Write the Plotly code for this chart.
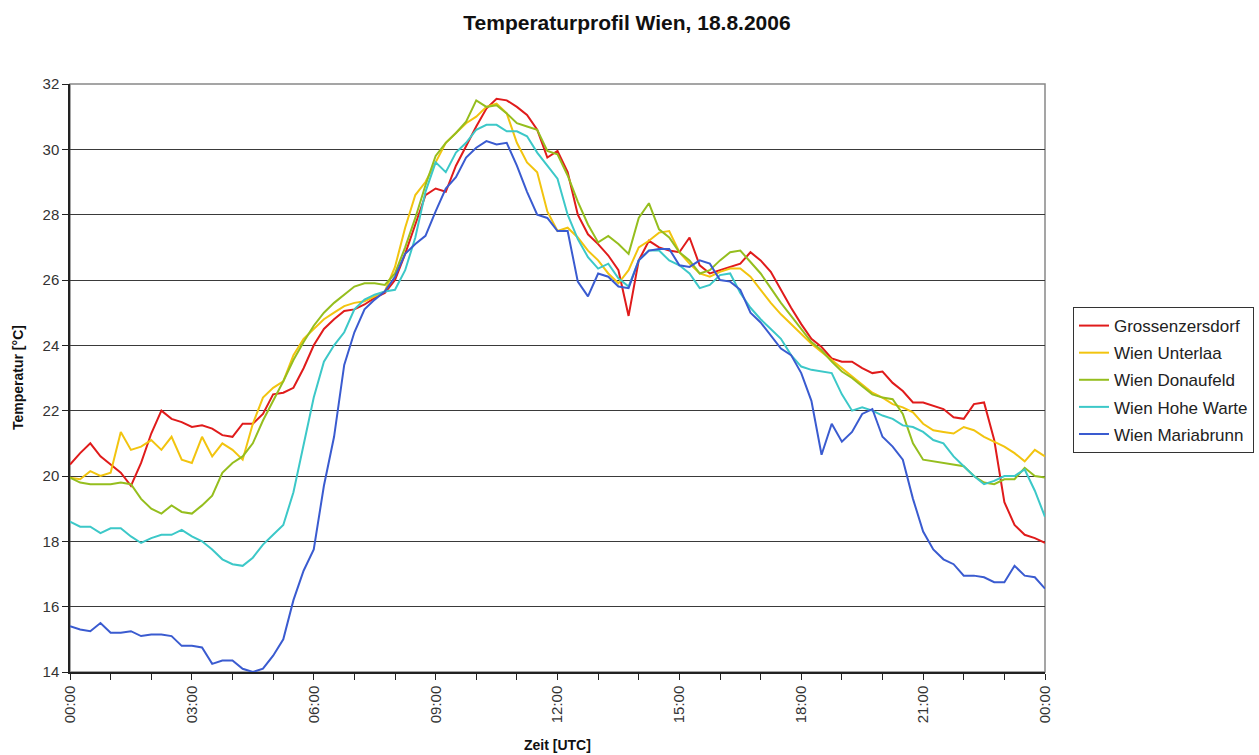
import plotly.graph_objects as go

# time grid (hours after 00:00 UTC, 15-minute steps)
times = [i * 0.25 for i in range(97)]

series_names = ["Grossenzersdorf", "Wien Unterlaa", "Wien Donaufeld", "Wien Hohe Warte", "Wien Mariabrunn"]

grossenzersdorf = [
    20.35, 20.7, 21.0, 20.6, 20.35, 20.1, 19.7, 20.4, 21.3, 22.0, 21.75, 21.65,
    21.5, 21.55, 21.45, 21.25, 21.2, 21.6, 21.6, 21.9, 22.5, 22.55, 22.7, 23.3,
    24.0, 24.5, 24.8, 25.05, 25.1, 25.25, 25.45, 25.6, 26.0, 26.8, 27.7, 28.6,
    28.8, 28.7, 29.5, 30.1, 30.7, 31.25, 31.55, 31.5, 31.3, 31.05, 30.6, 29.75,
    29.95, 29.3, 28.0, 27.4, 27.1, 26.75, 26.3, 24.9, 26.6, 27.2, 27.0, 26.9,
    26.85, 27.3, 26.45, 26.2, 26.3, 26.4, 26.5, 26.85, 26.6, 26.25, 25.7, 25.15,
    24.65, 24.2, 23.95, 23.6, 23.5, 23.5, 23.3, 23.15, 23.2, 22.85, 22.6, 22.25,
    22.25, 22.15, 22.05, 21.8, 21.75, 22.2, 22.25, 21.1, 19.2, 18.5, 18.2, 18.1,
    17.95,
]

unterlaa = [
    19.95, 19.9, 20.15, 20.0, 20.1, 21.35, 20.8, 20.9, 21.1, 20.8, 21.2, 20.5,
    20.4, 21.2, 20.6, 21.0, 20.8, 20.5, 21.6, 22.4, 22.7, 22.9, 23.7, 24.2,
    24.5, 24.8, 25.0, 25.2, 25.3, 25.35, 25.5, 25.65, 26.4, 27.6, 28.6, 29.0,
    29.6, 30.2, 30.5, 30.8, 31.0, 31.3, 31.4, 31.1, 30.2, 29.6, 29.3, 28.1,
    27.5, 27.6, 27.3, 26.9, 26.6, 26.2, 25.9, 26.3, 27.0, 27.2, 27.45, 27.5,
    26.85, 26.5, 26.2, 26.1, 26.25, 26.35, 26.35, 26.1, 25.7, 25.3, 24.95, 24.65,
    24.35, 24.05, 23.8, 23.55, 23.3, 23.05, 22.8, 22.55, 22.4, 22.2, 22.1, 21.95,
    21.6, 21.4, 21.35, 21.3, 21.5, 21.4, 21.2, 21.05, 20.9, 20.7, 20.45, 20.8,
    20.6,
]

donaufeld = [
    19.95, 19.8, 19.75, 19.75, 19.75, 19.8, 19.75, 19.3, 19.0, 18.85, 19.1, 18.9,
    18.85, 19.1, 19.4, 20.1, 20.4, 20.6, 21.0, 21.7, 22.3, 22.9, 23.55, 24.1,
    24.6, 25.0, 25.3, 25.55, 25.8, 25.9, 25.9, 25.85, 26.2, 27.0, 27.9, 28.9,
    29.8, 30.2, 30.5, 30.85, 31.5, 31.3, 31.35, 31.1, 30.8, 30.7, 30.6, 29.95,
    29.85, 29.2, 28.4, 27.7, 27.15, 27.35, 27.1, 26.8, 27.9, 28.35, 27.55, 27.3,
    26.85, 26.6, 26.2, 26.3, 26.6, 26.85, 26.9, 26.55, 26.2, 25.75, 25.3, 24.9,
    24.5, 24.1, 23.85, 23.5, 23.2, 23.0, 22.75, 22.5, 22.4, 22.35, 21.9, 21.0,
    20.5, 20.45, 20.4, 20.35, 20.3, 20.0, 19.8, 19.75, 19.9, 19.9, 20.25, 20.0,
    19.95,
]

hohe_warte = [
    18.6, 18.45, 18.45, 18.25, 18.4, 18.4, 18.15, 17.95, 18.1, 18.2, 18.2, 18.35,
    18.15, 18.0, 17.75, 17.45, 17.3, 17.25, 17.5, 17.9, 18.2, 18.5, 19.5, 20.9,
    22.4, 23.5, 24.0, 24.4, 25.1, 25.4, 25.55, 25.65, 25.7, 26.3, 27.3, 28.7,
    29.6, 29.3, 29.9, 30.2, 30.6, 30.75, 30.75, 30.55, 30.55, 30.4, 29.9, 29.5,
    29.1, 28.0, 27.25, 26.7, 26.35, 26.5, 26.05, 25.8, 26.6, 26.9, 26.9, 26.6,
    26.45, 26.2, 25.75, 25.85, 26.15, 26.2, 25.6, 25.15, 24.8, 24.5, 24.2, 23.7,
    23.35, 23.25, 23.2, 23.15, 22.5, 22.0, 22.1, 22.0, 21.85, 21.75, 21.55, 21.5,
    21.35, 21.1, 21.0, 20.6, 20.3, 20.0, 19.75, 19.85, 20.0, 20.0, 20.2, 19.55,
    18.75,
]

mariabrunn = [
    15.4, 15.3, 15.25, 15.5, 15.2, 15.2, 15.25, 15.1, 15.15, 15.15, 15.1, 14.8,
    14.8, 14.75, 14.25, 14.35, 14.35, 14.1, 14.0, 14.1, 14.5, 15.0, 16.2, 17.1,
    17.75, 19.7, 21.2, 23.4, 24.4, 25.1, 25.4, 25.65, 26.1, 26.8, 27.1, 27.35,
    28.1, 28.8, 29.15, 29.75, 30.05, 30.25, 30.15, 30.2, 29.5, 28.7, 28.0, 27.9,
    27.5, 27.5, 25.95, 25.5, 26.2, 26.1, 25.8, 25.75, 26.6, 26.9, 26.95, 26.95,
    26.45, 26.4, 26.6, 26.5, 26.0, 25.95, 25.7, 25.0, 24.7, 24.3, 23.9, 23.7,
    23.15, 22.3, 20.65, 21.6, 21.05, 21.35, 21.9, 22.05, 21.2, 20.9, 20.5, 19.3,
    18.3, 17.75, 17.45, 17.3, 16.95, 16.95, 16.9, 16.75, 16.75, 17.25, 16.95, 16.9,
    16.55,
]

series_values = [grossenzersdorf, unterlaa, donaufeld, hohe_warte, mariabrunn]
series_colors = ["#E01B1B", "#F2C40F", "#95BE1E", "#3CC8C8", "#3A5BD0"]

x_tick_hours = list(range(25))
x_tick_labels = ["00:00", "", "", "03:00", "", "", "06:00", "", "", "09:00", "", "",
                 "12:00", "", "", "15:00", "", "", "18:00", "", "", "21:00", "", "",
                 "00:00"]
y_tick_values = [14, 16, 18, 20, 22, 24, 26, 28, 30, 32]

FONT = "Liberation Sans, Arial, sans-serif"

fig = go.Figure()
for i, (name, vals, col) in enumerate(zip(series_names, series_values, series_colors)):
    n = min(len(times), len(vals))
    fig.add_trace(go.Scatter(
        x=times[:n], y=vals[:n], mode="lines", name=name,
        line=dict(color=col, width=2), legendgroup=f"g{i}",
    ))

fig.update_layout(
    width=1259, height=755,
    margin=dict(l=70, r=214, t=84, b=83, autoexpand=False),
    paper_bgcolor="white", plot_bgcolor="white",
    font=dict(family=FONT, color="#222"),
    title=dict(text="<b>Temperaturprofil Wien, 18.8.2006</b>", x=0.498, xanchor="center",
               y=1 - 23 / 755, yanchor="middle", font=dict(size=21, color="#111", family=FONT)),
    legend=dict(x=1.0287, y=0.6207, xanchor="left", yanchor="top",
                bordercolor="#333", borderwidth=1, bgcolor="white",
                font=dict(size=17, color="#222", family=FONT), tracegroupgap=2,
                itemwidth=30),
    showlegend=True,
)

fig.update_xaxes(
    range=[0, 24], tickmode="array", tickvals=x_tick_hours, ticktext=x_tick_labels,
    tickangle=-90, ticks="outside", ticklen=6, tickwidth=1, tickcolor="#222",
    showgrid=False, zeroline=False, showline=True, linecolor="#222", linewidth=1.5,
    tickfont=dict(size=15, color="#333", family=FONT),
)
fig.update_yaxes(
    range=[14, 32], tickmode="array", tickvals=y_tick_values,
    ticks="outside", ticklen=6, tickwidth=1, tickcolor="#222",
    showgrid=True, gridcolor="#3a3a3a", gridwidth=1.3,
    zeroline=False, showline=True, linecolor="#222", linewidth=1.5,
    tickfont=dict(size=15, color="#333", family=FONT),
)

# gray frame (top and right border of the plot area)
fig.add_shape(type="rect", xref="paper", yref="paper", x0=0, y0=0, x1=1, y1=1,
              line=dict(color="#888", width=1.5), layer="below")

fig.add_annotation(text="<b>Temperatur [°C]</b>", xref="paper", yref="paper",
                   x=-52 / 975, y=0.5, xanchor="center", yanchor="middle",
                   textangle=-90, showarrow=False,
                   font=dict(size=14, color="#111", family=FONT))
fig.add_annotation(text="<b>Zeit [UTC]</b>", xref="paper", yref="paper",
                   x=0.5, y=-(745 - 672) / 588, xanchor="center", yanchor="middle",
                   showarrow=False,
                   font=dict(size=14, color="#111", family=FONT))

fig.write_html("out.html",
               config={"displayModeBar": False},
               post_script="document.body.style.margin='0';document.body.style.padding='0';")
